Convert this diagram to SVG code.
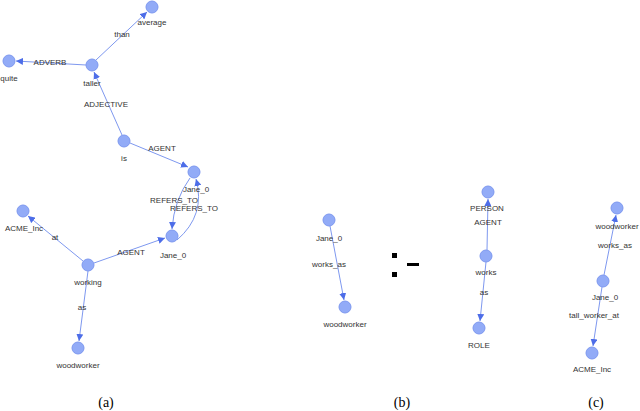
<svg xmlns="http://www.w3.org/2000/svg" width="640" height="411" viewBox="0 0 640 411">
<style>
.n{fill:#92abf7;stroke:#7d98f0;stroke-width:1}
.e{stroke:#7e98ef;stroke-width:1;fill:none;marker-end:url(#a)}
text{font-family:"Liberation Sans",Arial,sans-serif;font-size:8px;fill:#333;text-anchor:middle}
.c{font-family:"Liberation Serif","Times New Roman",serif;font-size:14px;fill:#000}
</style>
<defs><marker id="a" viewBox="0 0 10 10" refX="10" refY="5" markerWidth="7" markerHeight="7" orient="auto" markerUnits="userSpaceOnUse"><path d="M0,0L10,5L0,10z" fill="#4d6de8"/></marker></defs>
<rect width="640" height="411" fill="#fff"/>
<g id="connectors">
<line class="e" x1="96" y1="60" x2="147" y2="12"/>
<line class="e" x1="86" y1="65" x2="16" y2="61"/>
<line class="e" x1="122" y1="135" x2="94" y2="72"/>
<line class="e" x1="130" y1="143" x2="188" y2="167"/>
<path class="e" d="M190,178 Q174,200 172,229"/>
<path class="e" d="M177,240 Q206,215 196,179"/>
<line class="e" x1="83" y1="261" x2="28" y2="216"/>
<line class="e" x1="94" y1="263" x2="165" y2="238"/>
<line class="e" x1="88" y1="271" x2="79" y2="341"/>
<line class="e" x1="330" y1="226" x2="344" y2="300"/>
<line class="e" x1="487" y1="250" x2="488" y2="199"/>
<line class="e" x1="486" y1="262" x2="480" y2="321"/>
<line class="e" x1="604" y1="275" x2="616" y2="215"/>
<line class="e" x1="602" y1="287" x2="593" y2="346"/>
</g>
<g id="average"><circle class="n" cx="152" cy="7" r="6"/><text x="152" y="25">average</text></g>
<text x="122" y="37">than</text>
<g id="quite"><circle class="n" cx="9" cy="61" r="6"/><text x="9" y="81">quite</text></g>
<text x="50" y="65">ADVERB</text>
<g id="taller"><circle class="n" cx="92" cy="65" r="6"/><text x="92" y="86">taller</text></g>
<text x="106" y="107">ADJECTIVE</text>
<g id="is"><circle class="n" cx="124" cy="141" r="6"/><text x="124" y="161">is</text></g>
<text x="162" y="151">AGENT</text>
<g id="jane_top"><circle class="n" cx="194" cy="172" r="6"/><text x="196" y="192">Jane_0</text></g>
<text x="174" y="203">REFERS_TO</text>
<text x="194" y="211">REFERS_TO</text>
<g id="jane_low"><circle class="n" cx="172" cy="236" r="6"/><text x="173" y="258">Jane_0</text></g>
<g id="acme"><circle class="n" cx="23" cy="211" r="6"/><text x="24" y="231">ACME_Inc</text></g>
<text x="55" y="240">at</text>
<g id="working"><circle class="n" cx="88" cy="265" r="6"/><text x="88" y="285">working</text></g>
<text x="131" y="255">AGENT</text>
<text x="82" y="310">as</text>
<g id="woodworker_a"><circle class="n" cx="78" cy="348" r="6"/><text x="78" y="368">woodworker</text></g>
<text class="c" x="106" y="407">(a)</text>
<g id="jane_b"><circle class="n" cx="329" cy="220" r="6"/><text x="329" y="241">Jane_0</text></g>
<text x="329" y="267">works_as</text>
<g id="woodworker_b"><circle class="n" cx="345" cy="307" r="6"/><text x="345" y="327">woodworker</text></g>
<g id="neck"><rect x="392" y="253" width="5" height="5"/><rect x="392" y="272" width="5" height="5"/><rect x="407" y="263" width="12" height="3"/></g>
<g id="person"><circle class="n" cx="488" cy="192" r="6"/><text x="487" y="211">PERSON</text></g>
<text x="488" y="225">AGENT</text>
<g id="works"><circle class="n" cx="486" cy="256" r="6"/><text x="486" y="275">works</text></g>
<text x="484" y="295">as</text>
<g id="role"><circle class="n" cx="479" cy="328" r="6"/><text x="479" y="348">ROLE</text></g>
<text class="c" x="402" y="407">(b)</text>
<g id="woodworker_c"><circle class="n" cx="617" cy="208" r="6"/><text x="617" y="229">woodworker</text></g>
<text x="615" y="248">works_as</text>
<g id="jane_c"><circle class="n" cx="603" cy="281" r="6"/><text x="605" y="300">Jane_0</text></g>
<text x="594" y="318">tall_worker_at</text>
<g id="acme_c"><circle class="n" cx="592" cy="353" r="6"/><text x="592" y="372">ACME_Inc</text></g>
<text class="c" x="596" y="407">(c)</text>
</svg>
